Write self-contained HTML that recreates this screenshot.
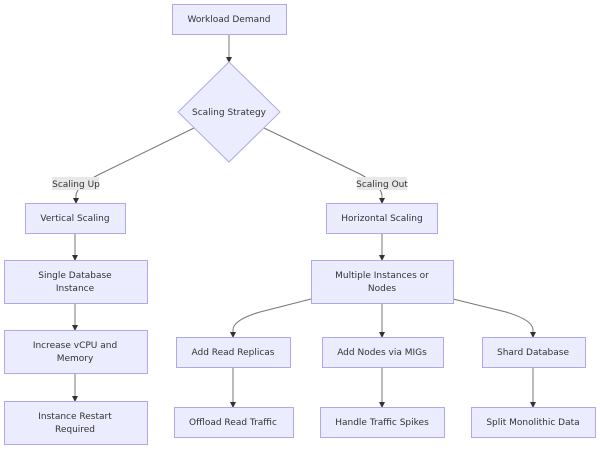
<!DOCTYPE html>
<html><head><style>
html,body{margin:0;padding:0;background:#fff;}
svg text{font-family:"DejaVu Sans","Liberation Sans",sans-serif;font-size:9px;fill:#333;text-anchor:middle;}
</style></head><body>
<svg width="600" height="450" viewBox="0 0 600 450" xmlns="http://www.w3.org/2000/svg">
<defs><marker id="a" markerWidth="6" markerHeight="6" refX="5" refY="3" orient="auto" markerUnits="userSpaceOnUse"><path d="M0,0L6,3L0,6z" fill="#333"/></marker></defs>
<g fill="none" stroke="#777" stroke-width="1" marker-end="url(#a)">
<path d="M229,34V62"/>
<path d="M194,128L100,174Q76,186 76,196V203"/>
<path d="M264,128L360,174Q382,186 382,196V203"/>
<path d="M75,233V260"/>
<path d="M382,233V260"/>
<path d="M75,303V330"/>
<path d="M75,373V401"/>
<path d="M311,299L260,312Q233,320 233,330V337"/>
<path d="M382,303V337"/>
<path d="M453,299L506,312Q533,320 533,330V337"/>
<path d="M233,367V407"/>
<path d="M382,367V407"/>
<path d="M533,367V407"/>
</g>
<g fill="#ececff" stroke="#b4a6ee" stroke-width="1">
<rect x="172.5" y="4.5" width="114" height="30"/>
<path d="M229,62L280,112L229,162L178,112z"/>
<rect x="25.5" y="203.5" width="100" height="30"/>
<rect x="326.5" y="203.5" width="111" height="30"/>
<rect x="4.5" y="260.5" width="143" height="43"/>
<rect x="311.5" y="260.5" width="142" height="43"/>
<rect x="4.5" y="330.5" width="143" height="43"/>
<rect x="4.5" y="401.5" width="143" height="43"/>
<rect x="176.5" y="337.5" width="114" height="30"/>
<rect x="322.5" y="337.5" width="121" height="30"/>
<rect x="482.5" y="337.5" width="103" height="30"/>
<rect x="174.5" y="407.5" width="119" height="30"/>
<rect x="320.5" y="407.5" width="124" height="30"/>
<rect x="471.5" y="407.5" width="124" height="30"/>
</g>
<rect x="52" y="177" width="47" height="13" fill="#e8e8e8"/>
<rect x="357" y="177" width="50" height="13" fill="#e8e8e8"/>
<text x="229" y="22">Workload Demand</text>
<text x="229" y="115">Scaling Strategy</text>
<text x="76" y="187">Scaling Up</text>
<text x="382" y="187">Scaling Out</text>
<text x="75" y="221">Vertical Scaling</text>
<text x="382" y="221">Horizontal Scaling</text>
<text x="75" y="278">Single Database</text>
<text x="75" y="291">Instance</text>
<text x="382" y="278">Multiple Instances or</text>
<text x="382" y="291">Nodes</text>
<text x="75" y="348">Increase vCPU and</text>
<text x="75" y="361">Memory</text>
<text x="75" y="419">Instance Restart</text>
<text x="75" y="432">Required</text>
<text x="233" y="355">Add Read Replicas</text>
<text x="382" y="355">Add Nodes via MIGs</text>
<text x="533" y="355">Shard Database</text>
<text x="233" y="425">Offload Read Traffic</text>
<text x="382" y="425">Handle Traffic Spikes</text>
<text x="533" y="425">Split Monolithic Data</text>
</svg>
</body></html>
